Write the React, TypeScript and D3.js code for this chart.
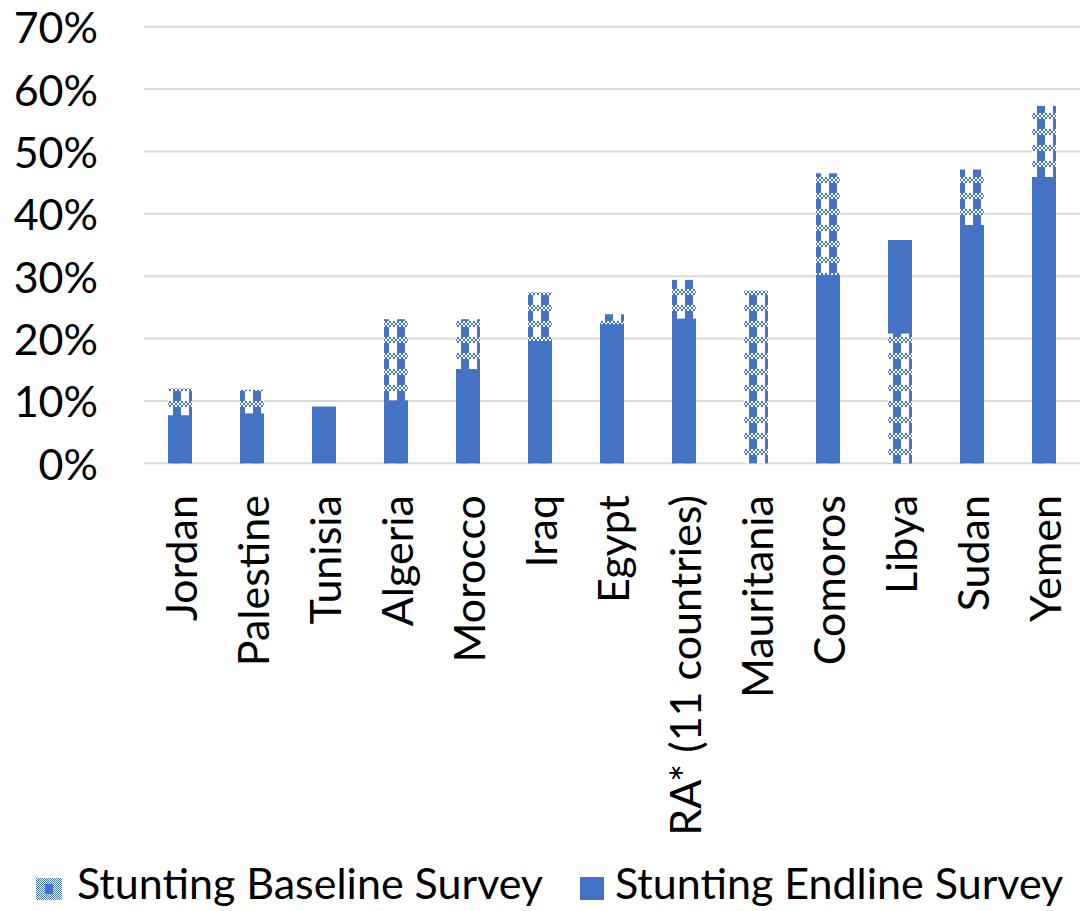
import React from "react";
import * as d3 from "d3";

// Stunting prevalence by country, baseline vs endline survey (%)
const categories = [
  "Jordan",
  "Palestine",
  "Tunisia",
  "Algeria",
  "Morocco",
  "Iraq",
  "Egypt",
  "RA* (11 countries)",
  "Mauritania",
  "Comoros",
  "Libya",
  "Sudan",
  "Yemen",
];
const baselineValues: (number | null)[] = [12.0, 11.8, null, 23.1, 23.1, 27.4, 23.9, 29.4, 27.7, 46.5, 20.8, 47.1, 57.3];
const endlineValues: (number | null)[] = [7.7, 8.0, 9.1, 10.1, 15.1, 19.6, 22.3, 23.2, null, 30.2, 35.8, 38.2, 45.9];
const yTicks = [0, 10, 20, 30, 40, 50, 60, 70];
const seriesNames = ["Stunting Baseline Survey", "Stunting Endline Survey"];

const WIDTH = 1083;
const HEIGHT = 911;
const BLUE = "#4472C4";
const FONT = "Lato, 'Open Sans', sans-serif";

export default function App() {
  const x = d3
    .scaleBand<string>()
    .domain(categories)
    .range([144, 1080])
    .paddingInner(2 / 3)
    .paddingOuter(1 / 3);
  const y = d3.scaleLinear().domain([0, 70]).range([463.3, 26.7]);

  // checker cells for the band of the baseline pattern
  const cells: { cx: number; cy: number }[] = [];
  for (let j = 0; j < 3; j++) for (let i = 0; i < 8; i++) if ((i + j) % 2 === 0) cells.push({ cx: i * 2, cy: j * 2 });
  const fineCells: { cx: number; cy: number }[] = [];
  for (let j = 0; j < 2; j++) for (let i = 0; i < 2; i++) if ((i + j) % 2 === 0) fineCells.push({ cx: i, cy: j });

  const bars: React.ReactNode[] = [];
  categories.forEach((c, i) => {
    const b = baselineValues[i];
    const e = endlineValues[i];
    const items: { v: number; fill: string; key: string }[] = [];
    if (b != null) items.push({ v: b, fill: "url(#basePat)", key: "b" });
    if (e != null) items.push({ v: e, fill: BLUE, key: "e" });
    // taller bar behind, shorter bar in front
    items.sort((p, q) => q.v - p.v);
    items.forEach((it) => {
      bars.push(
        <rect
          key={c + it.key}
          x={x(c)}
          y={y(it.v)}
          width={x.bandwidth()}
          height={y(0) - y(it.v)}
          fill={it.fill}
        />
      );
    });
  });

  return (
    <svg
      width={WIDTH}
      height={HEIGHT}
      style={{ position: "absolute", left: 0, top: 0, background: "#fff" }}
      fontFamily={FONT}
    >
      <defs>
        <pattern id="basePat" patternUnits="userSpaceOnUse" x={13} y={1} width={16} height={16}>
          <rect x={0} y={0} width={16} height={16} fill="#fff" />
          <rect x={0} y={0} width={8} height={16} fill={BLUE} />
          <rect x={0} y={0} width={16} height={6} fill="#fff" />
          {cells.map((p, k) => (
            <rect key={k} x={p.cx} y={p.cy} width={2} height={2} fill={BLUE} />
          ))}
        </pattern>
        <pattern id="finePat" patternUnits="userSpaceOnUse" x={0} y={0} width={2} height={2}>
          <rect x={0} y={0} width={2} height={2} fill="#fff" />
          {fineCells.map((p, k) => (
            <rect key={k} x={p.cx} y={p.cy} width={1} height={1} fill={BLUE} />
          ))}
        </pattern>
      </defs>

      {/* gridlines */}
      {yTicks.map((t) => (
        <line key={"g" + t} x1={144} x2={1080} y1={y(t)} y2={y(t)} stroke="#d9d9d9" strokeWidth={2} />
      ))}

      {/* y tick labels */}
      {yTicks.map((t) => (
        <text
          key={"t" + t}
          x={98}
          y={y(t)}
          textAnchor="end"
          dominantBaseline="central"
          fontSize={43}
          fill="#000"
        >
          {t + "%"}
        </text>
      ))}

      {bars}

      {/* category labels */}
      {categories.map((c) => {
        const cx = (x(c) as number) + x.bandwidth() / 2;
        return (
          <text
            key={"c" + c}
            transform={`translate(${cx},495) rotate(-90)`}
            textAnchor="end"
            dominantBaseline="central"
            fontSize={43}
            fill="#000"
          >
            {c}
          </text>
        );
      })}

      {/* legend */}
      <g>
        <rect x={36} y={878} width={26} height={22} fill="url(#finePat)" />
        <rect x={45} y={884} width={8} height={10} fill={BLUE} />
        <text x={77} y={899} fontSize={43} fill="#000">
          {seriesNames[0]}
        </text>
        <rect x={580} y={877} width={24} height={23} fill={BLUE} />
        <text x={615} y={899} fontSize={43} fill="#000">
          {seriesNames[1]}
        </text>
      </g>
    </svg>
  );
}
